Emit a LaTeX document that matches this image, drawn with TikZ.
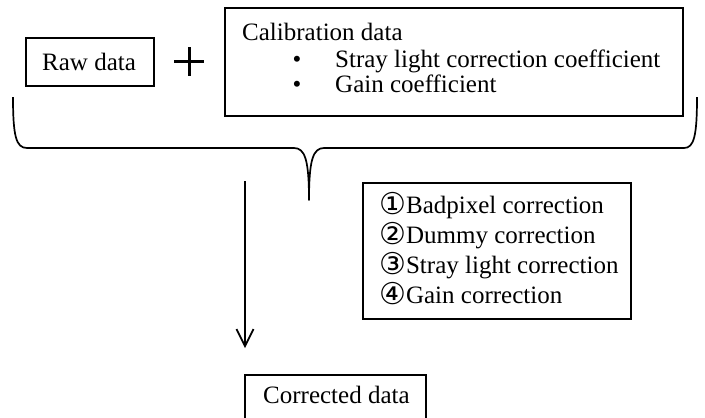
\documentclass[tikz,border=0pt]{standalone}
\usepackage{fontspec}
\setmainfont{Liberation Serif}
\newfontfamily\circfont{DejaVu Sans}
\usetikzlibrary{arrows.meta}

\tikzset{
  box/.style={draw, line width=1.7pt, rectangle, inner sep=0pt},
  txt/.style={anchor=base west, inner sep=0pt},
  brace/.style={line width=1.7pt, line join=round},
  flow/.style={line width=1.7pt, -{Straight Barb[length=17pt,width=17pt,line width=1.7pt]}},
}
\newcommand{\circnum}[1]{{\circfont\fontsize{30}{30}\selectfont\raisebox{-1pt}{#1}}}

\begin{document}
\begin{tikzpicture}[x=1pt, y=-1pt, font=\fontsize{25}{30}\selectfont]
  \clip (0,0) rectangle (705,418);

  % input boxes
  \node[box, minimum width=128pt, minimum height=48pt] (raw) at (90,62) {};
  \node[txt] (rawtxt) at (42,70) {Raw data};

  \draw[line width=3pt] (174,61) -- (204,61);
  \draw[line width=3pt] (189,47) -- (189,76);

  \node[box, minimum width=458pt, minimum height=108pt, anchor=north west] (calib) at (224,7) {};
  \node[txt] (calibtitle) at (242,40) {Calibration data};
  \node[anchor=base, inner sep=0pt] (bul1) at (297,67) {\textbullet};
  \node[anchor=base, inner sep=0pt] (bul2) at (297,92) {\textbullet};
  \node[txt] (calib1) at (335,67) {Stray light correction coefficient};
  \node[txt] (calib2) at (335,92) {Gain coefficient};

  % brace gathering the inputs
  \draw[brace] (13,97) .. controls (13,136) and (16,148) .. (27,148)
    -- (294,148) .. controls (305,148) and (309,160) .. (309,200)
    .. controls (309,160) and (313,148) .. (324,148)
    -- (684,148) .. controls (694,148) and (697,136) .. (697,97);

  % processing steps
  \node[box, minimum width=268pt, minimum height=136pt, anchor=north west] (steps) at (362,182) {};
  \node[txt] (step1) at (379,213) {\circnum{①}Badpixel correction};
  \node[txt] (step2) at (379,243) {\circnum{②}Dummy correction};
  \node[txt] (step3) at (379,273) {\circnum{③}Stray light correction};
  \node[txt] (step4) at (379,303) {\circnum{④}Gain correction};

  % output
  \node[box, minimum width=181pt, minimum height=60pt, anchor=north west] (out) at (244,374) {};
  \node[txt] (outtxt) at (263,403) {Corrected data};

  \coordinate (flowstart) at (245,181);
  \coordinate (flowend) at (245,348);
  \draw[flow] (flowstart) -- (flowend);
\end{tikzpicture}
\end{document}
